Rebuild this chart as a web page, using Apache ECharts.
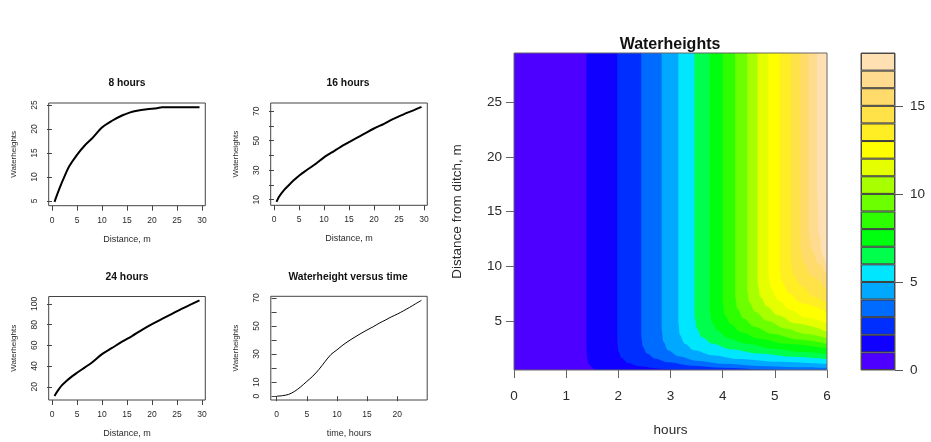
<!DOCTYPE html>
<html>
<head>
<meta charset="utf-8">
<script src="https://cdn.jsdelivr.net/npm/echarts@6/dist/echarts.min.js"></script>
<style>
  html, body { margin: 0; padding: 0; background: #fff; }
  #chart { width: 931px; height: 442px; }
</style>
</head>
<body>
<div id="chart"></div>
<script>
// water height profiles along the distance from the ditch
const dist8 = [0.5, 1.5, 2.5, 3.5, 5, 6.5, 8, 10, 12, 14, 15.5, 17, 19, 21, 22, 25, 29.5];
const height8 = [4.8, 7.6, 10.1, 12.3, 14.6, 16.5, 18.0, 20.3, 21.7, 22.8, 23.4, 23.8, 24.1, 24.3, 24.5, 24.5, 24.5];

const dist16 = [0.5, 1, 2, 3, 4, 5, 6.5, 8, 10, 12, 14, 16, 18, 20, 22, 24, 26, 28, 29.5];
const height16 = [8.5, 12, 16.5, 20, 23.3, 26.3, 30, 33.5, 38.7, 43, 47.2, 51, 54.6, 58.3, 61.5, 65, 68, 70.8, 73];

const dist24 = [0.5, 1, 2, 3, 4, 5, 6.5, 8, 10, 12, 14, 16, 18, 20, 22, 24, 26, 28, 29.5];
const height24 = [11, 15, 21.5, 26, 30, 33.5, 38.5, 43.5, 51.5, 57.5, 63.5, 69, 75, 80.5, 85.5, 90.5, 95.5, 100, 103.5];

// water height versus time
const timeHours = [0, 1, 2, 3, 4, 5, 6, 7, 8, 9, 10, 11, 12, 13, 14, 15, 16, 17, 18, 19, 20, 21, 22, 23, 24];
const heightTime = [0, 0.4, 1.3, 3.5, 6.7, 10.5, 14.3, 19, 24.5, 29.7, 33, 36.5, 39.5, 42.2, 44.8, 47.2, 49.5, 52, 54.2, 56.5, 58.5, 60.8, 63.2, 65.8, 68.3];

// filled contour: levels, colours (topo.colors(18)) and the contour line of each level (hours, distance)
const contourLevels = [0, 1, 2, 3, 4, 5, 6, 7, 8, 9, 10, 11, 12, 13, 14, 15, 16, 17, 18];
const contourColors = ["#4D00FF", "#0F00FF", "#002EFF", "#006BFF", "#00A8FF", "#00E6FF",
  "#00FF4D", "#00FF0F", "#2EFF00", "#6BFF00", "#A8FF00", "#E6FF00",
  "#FFFF00", "#FFEE24", "#FFE247", "#FFDB6B", "#FFDB8F", "#FFE0B3"];
const hourRange = [0, 6];
const distRange = [0.5, 29.5];
const contourLines = [
  [[1.39, 29.5], [1.39, 2.5], [1.40, 1.6], [1.43, 1.1], [1.48, 0.8], [1.56, 0.5], [6, 0.5]],
  [[1.98, 29.5], [1.98, 3.0], [2.0, 2.2], [2.06, 1.6], [2.18, 1.15], [2.4, 0.85], [2.8, 0.62], [3.3, 0.5], [6, 0.5]],
  [[2.44, 29.5], [2.44, 3.5], [2.47, 2.6], [2.55, 2.0], [2.7, 1.55], [2.95, 1.2], [3.4, 0.9], [4.0, 0.7], [4.8, 0.55], [5.3, 0.5], [6, 0.5]],
  [[2.83, 29.5], [2.83, 4.2], [2.86, 3.1], [2.95, 2.3], [3.15, 1.75], [3.5, 1.35], [4.0, 1.07], [4.7, 0.87], [5.4, 0.76], [6, 0.7]],
  [[3.15, 29.5], [3.15, 4.8], [3.18, 3.7], [3.27, 2.9], [3.45, 2.3], [3.8, 1.85], [4.3, 1.5], [5.0, 1.25], [6, 1.03]],
  [[3.46, 29.5], [3.46, 5.4], [3.5, 4.3], [3.6, 3.5], [3.8, 2.9], [4.15, 2.4], [4.7, 2.0], [5.3, 1.72], [6, 1.5]],
  [[3.75, 29.5], [3.75, 6.0], [3.79, 4.9], [3.9, 4.1], [4.1, 3.4], [4.45, 2.9], [4.95, 2.45], [5.5, 2.15], [6, 1.95]],
  [[4.0, 29.5], [4.0, 6.6], [4.04, 5.5], [4.15, 4.7], [4.35, 3.95], [4.7, 3.35], [5.2, 2.9], [6, 2.45]],
  [[4.24, 29.5], [4.24, 7.2], [4.28, 6.1], [4.4, 5.2], [4.6, 4.45], [4.95, 3.8], [5.45, 3.3], [6, 2.9]],
  [[4.47, 29.5], [4.47, 7.8], [4.51, 6.7], [4.63, 5.8], [4.85, 5.0], [5.2, 4.3], [5.6, 3.8], [6, 3.4]],
  [[4.67, 29.5], [4.67, 8.4], [4.72, 7.2], [4.85, 6.3], [5.05, 5.5], [5.4, 4.75], [6, 4.0]],
  [[4.88, 29.5], [4.88, 9.0], [4.93, 7.9], [5.06, 6.9], [5.3, 6.0], [5.6, 5.3], [6, 4.75]],
  [[5.09, 29.5], [5.09, 9.7], [5.14, 8.5], [5.27, 7.5], [5.5, 6.6], [6, 5.8]],
  [[5.30, 29.5], [5.30, 10.5], [5.35, 9.3], [5.5, 8.2], [5.75, 7.2], [6, 6.6]],
  [[5.49, 29.5], [5.49, 11.5], [5.55, 10.3], [5.7, 9.1], [6, 7.8]],
  [[5.65, 29.5], [5.65, 13], [5.71, 11.5], [5.84, 10.2], [6, 9.1]],
  [[5.81, 29.5], [5.81, 17], [5.84, 13], [5.91, 11], [6, 9.9]]
];

const distTicks = [0, 5, 10, 15, 20, 25, 30];
const ticks8 = [5, 10, 15, 20, 25];
const ticks16 = [10, 20, 30, 40, 50, 60, 70];
const labels16 = [10, 30, 50, 70];
const ticks24 = [20, 40, 60, 80, 100];
const timeTicks = [0, 5, 10, 15, 20];
const ticksTime = [0, 10, 20, 30, 40, 50, 60, 70];
const labelsTime = [0, 10, 30, 50, 70];
const distTicksBig = [5, 10, 15, 20, 25];
const legendTicks = [0, 5, 10, 15];

const FONT = "Liberation Sans, Arial, sans-serif";
const TXT = "#2a2a2a";
const LINE = "#444";

const zip = (xs, ys) => xs.map((x, i) => [x, ys[i]]);

const chart = echarts.init(document.getElementById("chart"));

function smallX(gi, min, max, ticks, name) {
  return {
    gridIndex: gi, type: "value", min, max,
    name, nameLocation: "middle", nameGap: 29,
    nameTextStyle: { fontSize: 9, color: TXT, fontFamily: FONT },
    axisLine: { show: false },
    axisTick: { show: true, length: 5, customValues: ticks, lineStyle: { color: LINE } },
    axisLabel: { customValues: ticks, fontSize: 8.5, color: TXT, fontFamily: FONT, margin: 10 },
    splitLine: { show: false }
  };
}

function smallY(gi, min, max, ticks, labels) {
  return {
    gridIndex: gi, type: "value", min, max,
    name: "Waterheights", nameLocation: "middle", nameGap: 31,
    nameTextStyle: { fontSize: 8, color: TXT, fontFamily: FONT },
    axisLine: { show: false },
    axisTick: { show: true, length: 5, customValues: ticks, lineStyle: { color: LINE } },
    axisLabel: { customValues: labels, rotate: 90, fontSize: 8.5, color: TXT, fontFamily: FONT, margin: 10 },
    splitLine: { show: false }
  };
}

const smallGrid = (left, top, width, height) => ({
  left, top, width, height, show: true, borderColor: LINE, borderWidth: 1,
  backgroundColor: "transparent", outerBoundsMode: "none"
});

const contourSeries = contourLevels.slice(0, -1).map((lo, k) => ({
  type: "line", xAxisIndex: 4, yAxisIndex: 4,
  data: k === 0 ? [[hourRange[0], distRange[0]], [hourRange[1], distRange[0]]] : contourLines[k - 1],
  showSymbol: false, symbol: "none", silent: true,
  smooth: k === 0 ? false : 0.35, smoothMonotone: "x",
  lineStyle: { width: 0, opacity: 0 },
  areaStyle: { color: contourColors[k], opacity: 1, origin: "end" },
  animation: false
}));

const legendSeries = contourLevels.slice(0, -1).map((lo, k) => ({
  type: "bar", xAxisIndex: 5, yAxisIndex: 5, stack: "legend",
  data: [contourLevels[k + 1] - lo],
  barWidth: "100%", silent: true,
  itemStyle: { color: contourColors[k], borderColor: "#3a3a3a", borderWidth: 1 },
  animation: false
}));

const lineSeries = (gi, data, width) => ({
  type: "line", xAxisIndex: gi, yAxisIndex: gi, data,
  showSymbol: false, symbol: "none", smooth: 0.3, silent: true,
  lineStyle: { color: "#000", width }, animation: false
});

const titleText = (x, y, text, size) => ({
  type: "text", x, y, z: 100,
  style: { text, font: "bold " + size + "px " + FONT, fill: "#111", textAlign: "center", textVerticalAlign: "middle" }
});

const option = {
  backgroundColor: "#fff",
  animation: false,
  textStyle: { fontFamily: FONT },
  grid: [
    smallGrid(48.7, 103, 156.6, 102.7),
    smallGrid(270.7, 103, 156.6, 102.3),
    smallGrid(48.7, 296.5, 156.6, 103.5),
    smallGrid(270.8, 296.3, 156.4, 103.7),
    { left: 514, top: 53, width: 313, height: 317, show: true, borderColor: "#666", borderWidth: 1,
      backgroundColor: "transparent", z: 10, outerBoundsMode: "none" },
    { left: 861, top: 53, width: 34, height: 317, show: true, borderColor: "#555", borderWidth: 1,
      backgroundColor: "transparent", z: 10, outerBoundsMode: "none" }
  ],
  xAxis: [
    smallX(0, -0.66, 30.66, distTicks, "Distance, m"),
    smallX(1, -0.66, 30.66, distTicks, "Distance, m"),
    smallX(2, -0.66, 30.66, distTicks, "Distance, m"),
    smallX(3, -0.96, 24.96, timeTicks, "time, hours"),
    {
      gridIndex: 4, type: "value", min: hourRange[0], max: hourRange[1], interval: 1,
      name: "hours", nameLocation: "middle", nameGap: 53,
      nameTextStyle: { fontSize: 13.5, color: TXT, fontFamily: FONT },
      axisLine: { show: false },
      axisTick: { show: true, length: 8, lineStyle: { color: "#666" } },
      axisLabel: { fontSize: 13.5, color: TXT, fontFamily: FONT, margin: 19 },
      splitLine: { show: false }
    },
    { gridIndex: 5, type: "category", data: [""], show: false }
  ],
  yAxis: [
    smallY(0, 4.0, 25.4, ticks8, ticks8),
    smallY(1, 6.2, 75.6, ticks16, labels16),
    smallY(2, 7.2, 107.2, ticks24, ticks24),
    smallY(3, -2.7, 71.2, ticksTime, labelsTime),
    {
      gridIndex: 4, type: "value", min: distRange[0], max: distRange[1],
      name: "Distance from ditch, m", nameLocation: "middle", nameGap: 50,
      nameTextStyle: { fontSize: 13.5, color: TXT, fontFamily: FONT },
      axisLine: { show: false },
      axisTick: { show: true, length: 8, customValues: distTicksBig, lineStyle: { color: "#666" } },
      axisLabel: { customValues: distTicksBig, fontSize: 13.5, color: TXT, fontFamily: FONT, margin: 12 },
      splitLine: { show: false }
    },
    {
      gridIndex: 5, type: "value", min: contourLevels[0], max: contourLevels[contourLevels.length - 1],
      position: "right",
      axisLine: { show: false },
      axisTick: { show: true, length: 8, customValues: legendTicks, lineStyle: { color: "#555" } },
      axisLabel: { customValues: legendTicks, fontSize: 13.5, color: TXT, fontFamily: FONT, margin: 15 },
      splitLine: { show: false }
    }
  ],
  graphic: [
    titleText(127, 83, "8 hours", 10.3),
    titleText(348, 83, "16 hours", 10.3),
    titleText(127, 277, "24 hours", 10.3),
    titleText(348, 277, "Waterheight versus time", 10.3),
    titleText(670, 45, "Waterheights", 16)
  ],
  series: [
    lineSeries(0, zip(dist8, height8), 2),
    lineSeries(1, zip(dist16, height16), 2),
    lineSeries(2, zip(dist24, height24), 2),
    lineSeries(3, zip(timeHours, heightTime), 1),
    ...contourSeries,
    ...legendSeries
  ]
};

chart.setOption(option);
window.addEventListener("resize", () => chart.resize());
</script>
</body>
</html>
